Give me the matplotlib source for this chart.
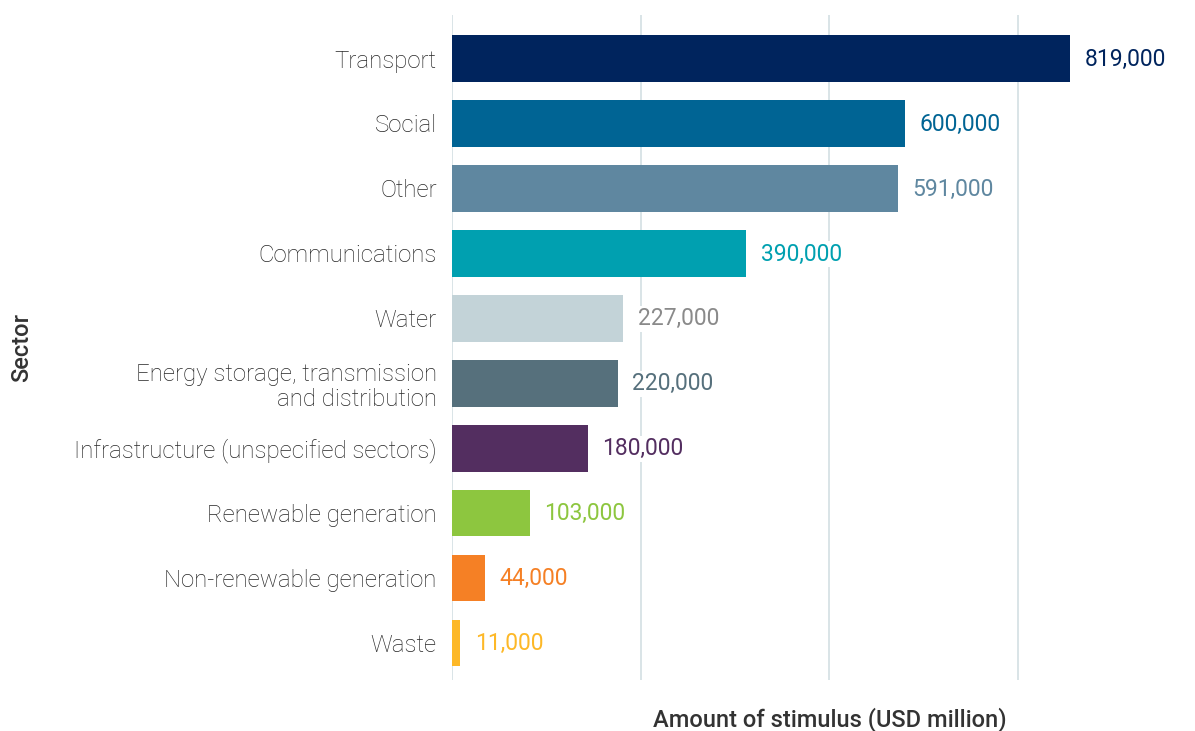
import matplotlib.pyplot as plt

sectors = ['Transport', 'Social', 'Other', 'Communications', 'Water',
           'Energy storage, transmission\nand distribution',
           'Infrastructure (unspecified sectors)', 'Renewable generation',
           'Non-renewable generation', 'Waste']
amounts = [819000, 600000, 591000, 390000, 227000, 220000, 180000, 103000, 44000, 11000]
bar_colors = ['#00245d', '#006494', '#5f87a0', '#00a0b0', '#c3d3d8',
              '#56707c', '#532e60', '#8dc63f', '#f58025', '#fdb827']
label_colors = ['#00245d', '#006494', '#5f87a0', '#00a0b0', '#8a8a8a',
                '#56707c', '#532e60', '#8dc63f', '#f58025', '#fdb827']

plt.rcParams['font.family'] = ['Roboto', 'DejaVu Sans']

fig = plt.figure(figsize=(11.95, 7.31), dpi=100)
ax = fig.add_axes([452 / 1195, 1 - 680 / 731, 1 - 452 / 1195, 665 / 731])

y = list(range(len(sectors)))
ax.barh(y, amounts, height=0.72, color=bar_colors, zorder=2)

for i, (v, c) in enumerate(zip(amounts, label_colors)):
    ax.text(v + 19000, i + 0.01, f'{v:,}', va='center', ha='left', color=c,
            fontsize=16.5, zorder=3,
            bbox=dict(facecolor='white', edgecolor='none', pad=1))

ax.set_xlim(0, 984600)
ax.set_ylim(9.57, -0.67)
ax.set_xticks([0, 250000, 500000, 750000])
ax.set_xticklabels([])
ax.tick_params(axis='x', length=0)
ax.grid(axis='x', color='#d3dfe3', linewidth=1.2, zorder=0)

ax.set_yticks(y)
ax.set_yticklabels(sectors, fontsize=17.3, fontweight='light', color='#262626',
                   linespacing=1.15)
ax.tick_params(axis='y', length=0, pad=11)

for s in ax.spines.values():
    s.set_visible(False)

fig.text(22 / 1195, 1 - 347 / 731, 'Sector', rotation=90, ha='center', va='center',
         fontsize=17, fontweight='medium', color='#333333')
fig.text(830 / 1195, 1 - 720 / 731, 'Amount of stimulus (USD million)', ha='center',
         va='center', fontsize=17, fontweight='medium', color='#333333')

fig.savefig('out.png', dpi=100)
